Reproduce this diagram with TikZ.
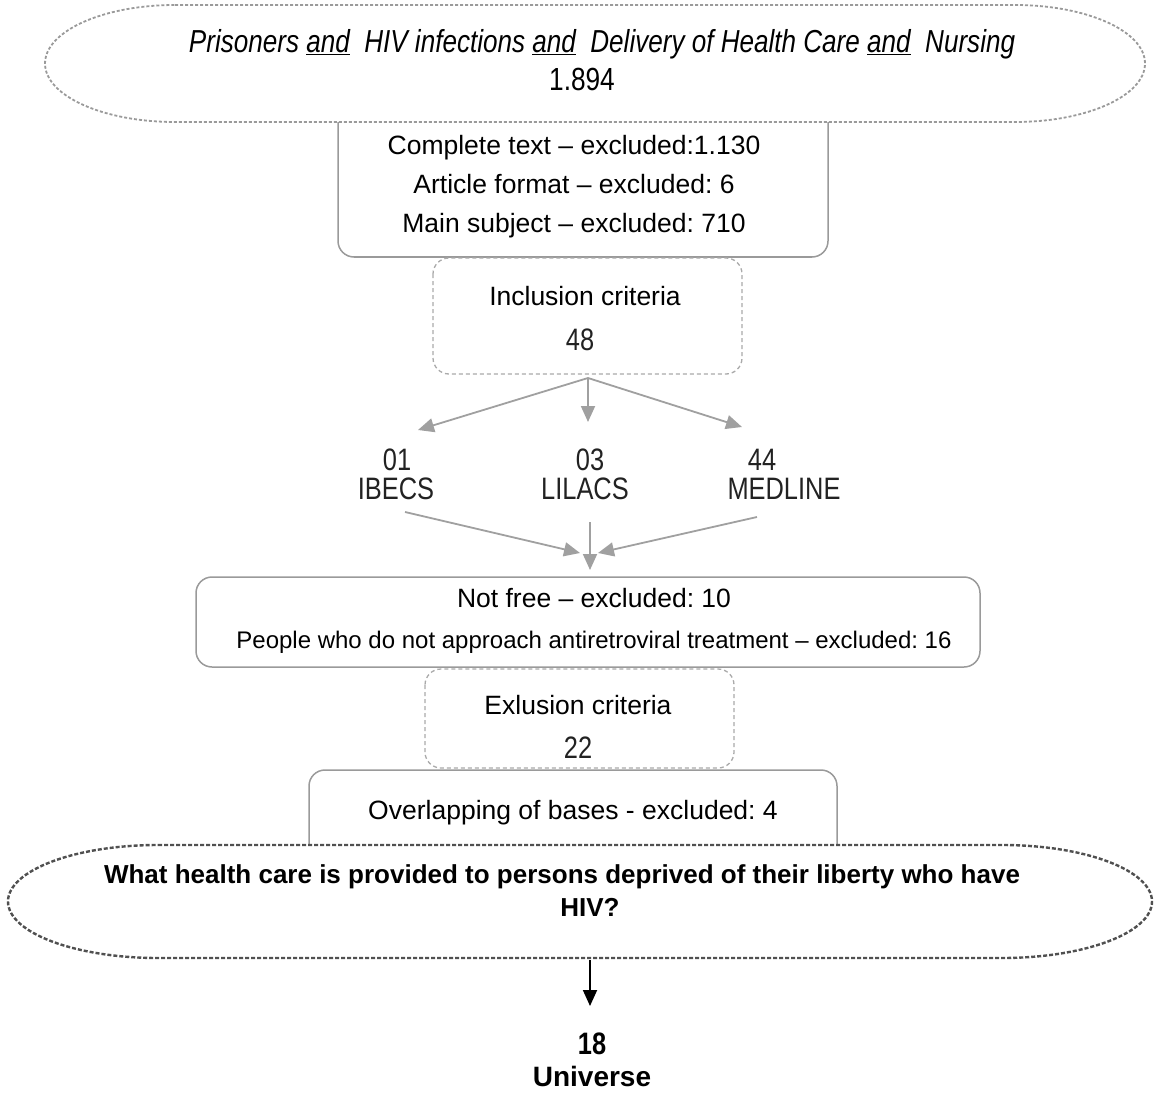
\documentclass[tikz,border=0pt]{standalone}
\usepackage{fontspec}
\setmainfont{Liberation Sans}
\newfontfamily\narrowf[FakeStretch=0.82]{Liberation Sans}
\usetikzlibrary{arrows.meta}
\definecolor{boxgray}{HTML}{9A9A9A}
\definecolor{dashgray}{HTML}{AAAAAA}
\definecolor{arrgray}{HTML}{A0A0A0}
\definecolor{dkgray}{HTML}{505050}
\definecolor{numgray}{HTML}{222222}
\tikzset{
  solidbox/.style={draw=boxgray, line width=1.5pt, rounded corners=16pt, fill=white},
  dashbox/.style={draw=dashgray, line width=1.3pt, dash pattern=on 4pt off 3pt, rounded corners=16pt, fill=white},
  topoval/.style={draw=boxgray, line width=1.8pt, dash pattern=on 3pt off 2pt, fill=white},
  botoval/.style={draw=dkgray, line width=2.4pt, dash pattern=on 4pt off 2pt, fill=white},
  txt/.style={inner sep=0pt, font=\fontsize{26.5}{39}\selectfont, align=center},
  numtxt/.style={inner sep=0pt, text=numgray, font=\narrowf\fontsize{31}{34}\selectfont},
  garrow/.style={draw=arrgray, line width=1.8pt, -{Triangle[length=16pt,width=14pt]}},
  karrow/.style={draw=black, line width=1.8pt, -{Triangle[length=16pt,width=14pt]}},
}
\begin{document}
\frenchspacing
\begin{tikzpicture}[x=1pt,y=-1pt]
\useasboundingbox (0,0) rectangle (1154,1094);
% box 1
\draw[solidbox] (338,95) rectangle (828,257);
% top oval
\draw[topoval] (175,5) -- (1015,5) .. controls (1086.8,5) and (1145,31.2) .. (1145,63.5)
  .. controls (1145,95.8) and (1086.8,122) .. (1015,122) -- (175,122)
  .. controls (103.2,122) and (45,95.8) .. (45,63.5) .. controls (45,31.2) and (103.2,5) .. (175,5) -- cycle;
\node[inner sep=0pt, font=\narrowf\itshape\fontsize{31.8}{35}\selectfont] (search) at (602,44)
  {Prisoners \underline{and}\ \ HIV infections \underline{and}\ \ Delivery of Health Care \underline{and}\ \ Nursing};
\node[inner sep=0pt, font=\narrowf\fontsize{32}{35}\selectfont] (total) at (582,79) {1.894};
\node[txt] (excl1) at (574,187) {Complete text -- excluded:1.130\\Article format -- excluded: 6\\Main subject -- excluded: 710};
% inclusion
\draw[dashbox] (433,258) rectangle (742,374);
\node[txt] (incl) at (585,296) {Inclusion criteria};
\node[numtxt] (n48) at (580,340) {48};
\coordinate (inclout) at (588,378);
% databases
\node[numtxt] (n01) at (397,460) {01};
\node[numtxt] (ibecs) at (396,489) {IBECS};
\node[numtxt] (n03) at (590,460) {03};
\node[numtxt] (lilacs) at (585,489) {LILACS};
\node[numtxt] (n44) at (762,460) {44};
\node[numtxt] (medline) at (784,489) {MEDLINE};
\coordinate (aIB) at (418,430);
\coordinate (aLI) at (588,422);
\coordinate (aME) at (742,427);
\draw[garrow] (inclout) -- (aIB);
\draw[garrow] (inclout) -- (aLI);
\draw[garrow] (inclout) -- (aME);
\coordinate (sIB) at (405,512);
\coordinate (sLI) at (590,522);
\coordinate (sME) at (757,517);
\coordinate (mL) at (580,553);
\coordinate (mC) at (590,570);
\coordinate (mR) at (598,553);
% box 2
\draw[solidbox] (196,577) rectangle (980,667);
\draw[garrow] (sIB) -- (mL);
\draw[garrow] (sME) -- (mR);
\draw[garrow] (sLI) -- (mC);
\node[txt] (notfree) at (594,598) {Not free -- excluded: 10};
\node[txt, font=\fontsize{24}{28}\selectfont] (people) at (594,642) {People who do not approach antiretroviral treatment -- excluded: 16};
% exclusion
\draw[dashbox] (425,669) rectangle (734,768);
\node[txt] (exclc) at (578,705) {Exlusion criteria};
\node[numtxt] (n22) at (578,748) {22};
% overlapping
\draw[solidbox] (309,770) rectangle (837,880);
\node[txt] (overl) at (573,813) {Overlapping of bases - excluded: 4};
% bottom oval
\draw[botoval] (158,845) -- (1002,845) .. controls (1084.8,845) and (1152,870.3) .. (1152,901.5)
  .. controls (1152,932.7) and (1084.8,958) .. (1002,958) -- (158,958)
  .. controls (75.2,958) and (8,932.7) .. (8,901.5) .. controls (8,870.3) and (75.2,845) .. (158,845) -- cycle;
\node[txt, font=\bfseries\fontsize{26}{30}\selectfont] (q1) at (562,877) {What health care is provided to persons deprived of their liberty who have};
\node[txt, font=\bfseries\fontsize{26}{30}\selectfont] (q2) at (590,907) {HIV?};
\coordinate (qbot) at (590,960);
\coordinate (uend) at (590,1006);
\draw[karrow] (qbot) -- (uend);
\node[inner sep=0pt, font=\narrowf\bfseries\fontsize{31}{34}\selectfont] (n18) at (592,1044) {18};
\node[inner sep=0pt, font=\bfseries\fontsize{28}{32}\selectfont] (univ) at (592,1076) {Universe};
\end{tikzpicture}
\end{document}
